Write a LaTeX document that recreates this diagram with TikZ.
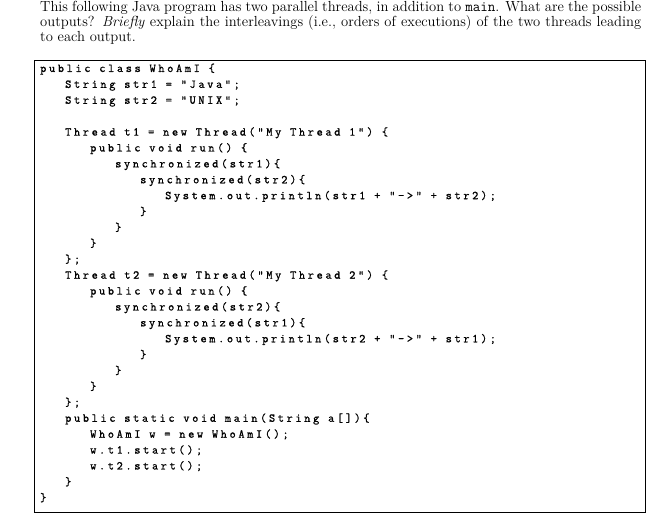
\documentclass[tikz,border=0pt]{standalone}
\usepackage{fontspec}
\newfontfamily\codefont[LetterSpace=22,FakeBold=1]{Latin Modern Mono}
\begin{document}
\begin{tikzpicture}[x=1pt,y=1pt,
  cl/.style={anchor=base west,inner sep=0pt}]
\useasboundingbox (0,0) rectangle (664,526);
\node[anchor=north west,inner sep=0pt,text width=601pt,align=justify] (q) at (40,525)
 {\fontsize{14.6}{16}\selectfont This following Java program has two parallel threads, in addition to \texttt{main}. What are the possible outputs? \emph{Briefly} explain the interleavings (i.e., orders of executions) of the two threads leading to each output.};
\draw[line width=0.9pt] (34.5,466) rectangle (645,14);
\foreach \i/\l/\t in {
0/0/{public class WhoAmI \{},
1/1/{String str1 = "Java";},
2/1/{String str2 = "UNIX";},
4/1/{Thread t1 = new Thread("My Thread 1") \{},
5/2/{public void run() \{},
6/3/{synchronized(str1)\{},
7/4/{synchronized(str2)\{},
8/5/{System.out.println(str1 + "->" + str2);},
9/4/{\}},
10/3/{\}},
11/2/{\}},
12/1/{\};},
13/1/{Thread t2 = new Thread("My Thread 2") \{},
14/2/{public void run() \{},
15/3/{synchronized(str2)\{},
16/4/{synchronized(str1)\{},
17/5/{System.out.println(str2 + "->" + str1);},
18/4/{\}},
19/3/{\}},
20/2/{\}},
21/1/{\};},
22/1/{public static void main(String a[])\{},
23/2/{WhoAmI w = new WhoAmI();},
24/2/{w.t1.start();},
25/2/{w.t2.start();},
26/1/{\}},
27/0/{\}}}
 \node[cl] (c\i) at ({40+25*\l},{526-72-15.9*\i}) {\fontsize{12}{14}\codefont\t};
\end{tikzpicture}
\end{document}
